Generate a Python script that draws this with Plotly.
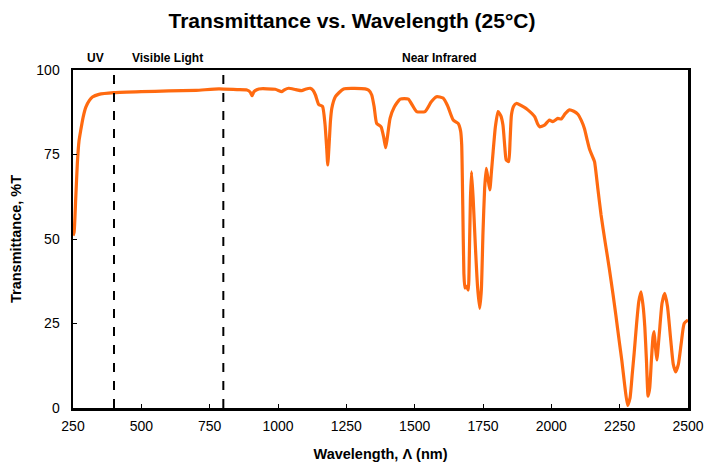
import plotly.graph_objects as go

title_text = "Transmittance vs. Wavelength (25°C)"
x_title = "Wavelength, Λ (nm)"
y_title = "Transmittance, %T"

wavelength = [250, 254, 260, 266, 272, 278, 287, 297, 310, 321, 345, 400, 500, 600, 700, 784,
              850, 886, 898, 905, 912, 930, 990, 1014, 1025, 1039, 1065, 1087, 1100, 1118, 1128,
              1137, 1149, 1163, 1172, 1178, 1182, 1187, 1192, 1197, 1210, 1240, 1319, 1332, 1343,
              1352, 1361, 1377, 1387, 1394, 1400, 1410, 1425, 1447, 1477, 1492, 1507, 1538, 1560,
              1580, 1604, 1620, 1641, 1659, 1668, 1672, 1676, 1680, 1684, 1690, 1696, 1700, 1704,
              1708, 1714, 1722, 1730, 1738, 1744, 1750, 1756, 1762, 1768, 1775, 1781, 1787, 1795,
              1805, 1815, 1823, 1830, 1835, 1844, 1849, 1854, 1862, 1872, 1900, 1914, 1939, 1950,
              1957, 1975, 1993, 2005, 2024, 2036, 2050, 2066, 2082, 2097, 2110, 2121, 2132, 2139,
              2150, 2158, 2170, 2182, 2197, 2212, 2225, 2236, 2248, 2258, 2268, 2279, 2288, 2296,
              2303, 2312, 2320, 2328, 2336, 2342, 2348, 2354, 2360, 2366, 2372, 2376, 2381, 2386,
              2395, 2405, 2415, 2425, 2437, 2446, 2455, 2465, 2475, 2486, 2500]
transmittance = [51, 52, 62, 72.5, 79, 82, 86, 89, 91, 92, 92.8, 93.3, 93.6, 93.8, 94.0, 94.4,
                 94.2, 94.1, 93.5, 92.4, 93.6, 94.4, 94.3, 93.6, 94.2, 94.6, 94.2, 93.9, 94.3, 94.6, 94.0,
                 92.6, 89.8, 89.2, 84, 77, 71.9, 78, 85, 88.7, 92.1, 94.4, 94.4, 94.0, 92.6,
                 89, 84.2, 83.2, 80, 77.0, 80, 85.7, 89, 91.4, 91.4, 89.5, 87.7, 87.7, 90.5,
                 92.1, 91.7, 89.5, 85.2, 84.2, 82, 78, 60, 40, 35.5, 36, 34.9, 45, 62,
                 69.9, 62, 48, 36, 29.5, 35, 52, 65, 70.9, 68, 64.5, 70, 75.8, 83,
                 87.7, 86.5, 83.7, 77, 73.4, 72.9, 79, 86.7, 89.3, 90.1, 89, 88.2, 86.2, 84,
                 83.2, 83.7, 85.2, 84.7, 85.7, 85.5, 87, 88.2, 87.8, 86.9, 85, 82.7, 79, 76.8,
                 74.5, 72.9, 65, 57.1, 49, 41.3, 34, 27.5, 20, 14, 7, 0.8, 3, 10,
                 16.2, 25, 31.5, 34.4, 30, 24, 14, 3.5, 6, 14, 21, 22.6, 18, 14.2,
                 22, 31, 33.9, 30, 20, 13, 10.7, 13, 19, 25, 26]

region_bounds = [400, 800]
region_labels = ["UV", "Visible Light", "Near Infrared"]
region_label_x = [332, 595, 1590]

x_ticks = [250, 500, 750, 1000, 1250, 1500, 1750, 2000, 2250, 2500]
y_ticks = [0, 25, 50, 75, 100]

FONT = "Liberation Sans, Arial, sans-serif"

fig = go.Figure()
fig.add_trace(go.Scatter(
    x=wavelength, y=transmittance, mode="lines",
    line=dict(color="#FF6A10", width=3.2, shape="spline", smoothing=0.5),
    hoverinfo="skip", showlegend=False,
))

for b in region_bounds:
    fig.add_vline(x=b, line=dict(color="black", width=2, dash="dash"), layer="above")

for lab, lx in zip(region_labels, region_label_x):
    fig.add_annotation(x=lx, y=1.0, xref="x", yref="paper", yanchor="bottom", yshift=3,
                       text=f"<b>{lab}</b>", showarrow=False,
                       font=dict(family=FONT, size=12, color="black"))

fig.update_layout(
    width=704, height=463,
    margin=dict(l=73, r=16, t=70, b=55, autoexpand=False),
    paper_bgcolor="white", plot_bgcolor="white",
    title=dict(text=f"<b>{title_text}</b>", x=0.5, xanchor="center", y=0.955, yanchor="middle",
               font=dict(family=FONT, size=21, color="black")),
    font=dict(family=FONT, color="black"),
)
fig.update_xaxes(
    range=[250, 2500], tickvals=x_ticks, ticks="inside", ticklen=4, tickwidth=1, tickcolor="black",
    showline=True, linecolor="black", linewidth=2.5, mirror=True, showgrid=False, zeroline=False,
    tickfont=dict(family=FONT, size=14, color="black"), ticklabelstandoff=4,
    title=dict(text=f"<b>{x_title}</b>", font=dict(family=FONT, size=14.5, color="black"), standoff=16),
)
fig.update_yaxes(
    range=[0, 100], tickvals=y_ticks, ticks="inside", ticklen=4, tickwidth=1, tickcolor="black",
    showline=True, linecolor="black", linewidth=2.5, mirror=True, showgrid=False, zeroline=False,
    tickfont=dict(family=FONT, size=14, color="black"), ticklabelstandoff=8,
    title=dict(text=f"<b>{y_title}</b>", font=dict(family=FONT, size=14.5, color="black"), standoff=12),
)

fig.write_html("out.html", config={"displayModeBar": False, "staticPlot": True},
               post_script="document.body.style.margin='0';")
